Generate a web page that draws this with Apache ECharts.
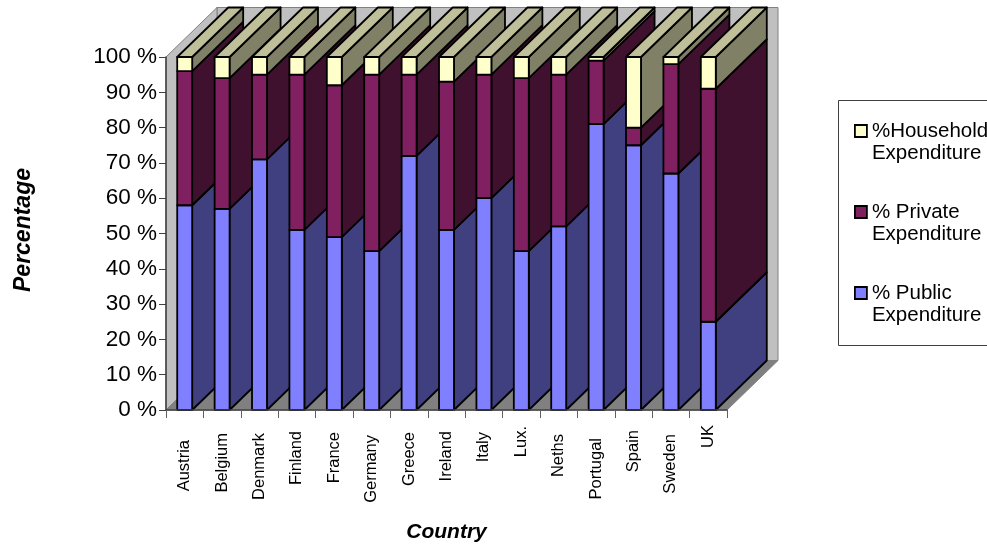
<!DOCTYPE html>
<html>
<head>
<meta charset="utf-8">
<title>Health expenditure shares by country</title>
<style>html,body{margin:0;padding:0;background:#fff}#chart{width:987px;height:544px}</style>
<script src="https://cdn.jsdelivr.net/npm/echarts@6/dist/echarts.min.js"></script>
</head>
<body>
<div id="chart"></div>
<script>
const categories = ['Austria','Belgium','Denmark','Finland','France','Germany','Greece','Ireland','Italy','Lux.','Neths','Portugal','Spain','Sweden','UK'];
const publicPct = [58,57,71,51,49,45,72,51,60,45,52,81,75,67,25];
const privatePct = [38,37,24,44,43,50,23,42,35,49,43,18,5,31,66];
const householdPct = [4,6,5,5,8,5,5,7,5,6,5,1,20,2,9];
const yTicks = { min: 0, max: 100, interval: 10 };

// Extra gap between the axis and each rotated country name.
const labelGaps = [15,8,8,6,7,10,7,6,7,1,9,13,5,9,0];

// Oblique projection used for the pseudo-3D look.
const DEPTH_X = 51;
const DEPTH_Y = -49.5;
const BAR_RATIO = 0.4;
const FONT = '"Liberation Sans", Arial, sans-serif';

function shade(points, fill, z2, lineColor, lineWidth) {
  return {
    type: 'polygon',
    z2: z2,
    shape: { points: points },
    style: { fill: fill, stroke: lineColor || '#000', lineWidth: lineWidth || 1.8, lineJoin: 'round' }
  };
}

// One stack segment of a column: front, side and, for the top segment, the lid.
function segmentRenderer(front, side, lid, order) {
  return function (params, api) {
    const i = api.value(0);
    const low = api.coord([i, api.value(1)]);
    const high = api.coord([i, api.value(2)]);
    const half = api.size([1, 0])[0] * BAR_RATIO / 2;
    const l = low[0] - half, r = low[0] + half;
    const z = i * 10 + order;
    const children = [
      shade([[r, low[1]], [r + DEPTH_X, low[1] + DEPTH_Y], [r + DEPTH_X, high[1] + DEPTH_Y], [r, high[1]]], side, z),
      shade([[l, low[1]], [r, low[1]], [r, high[1]], [l, high[1]]], front, z + 1)
    ];
    if (lid) {
      children.push(shade([[l, high[1]], [r, high[1]], [r + DEPTH_X, high[1] + DEPTH_Y], [l + DEPTH_X, high[1] + DEPTH_Y]], lid, z + 2));
    }
    return { type: 'group', children: children };
  };
}

// Back wall, side wall and floor of the plot box.
function renderWalls(params) {
  const g = params.coordSys;
  const x0 = g.x, x1 = g.x + g.width, y0 = g.y, y1 = g.y + g.height;
  const edge = '#808080';
  return {
    type: 'group',
    children: [
      shade([[x0 + DEPTH_X, y0 + DEPTH_Y], [x1 + DEPTH_X, y0 + DEPTH_Y], [x1 + DEPTH_X, y1 + DEPTH_Y], [x0 + DEPTH_X, y1 + DEPTH_Y]], '#c0c0c0', 0, edge, 1),
      shade([[x0, y0], [x0 + DEPTH_X, y0 + DEPTH_Y], [x0 + DEPTH_X, y1 + DEPTH_Y], [x0, y1]], '#c0c0c0', 0, edge, 1),
      shade([[x0, y1], [x0 + DEPTH_X, y1 + DEPTH_Y], [x1 + DEPTH_X, y1 + DEPTH_Y], [x1, y1]], '#808080', 0, '#808080', 1)
    ]
  };
}

function stackData(bases, values) {
  return values.map((v, i) => [i, bases[i], bases[i] + v]);
}
const privateBase = publicPct.slice();
const householdBase = publicPct.map((v, i) => v + privatePct[i]);

const seriesDefs = [
  { name: '% Public\nExpenditure', color: '#8080ff', side: '#404080', lid: null, order: 0, data: stackData(publicPct.map(() => 0), publicPct) },
  { name: '% Private\nExpenditure', color: '#802060', side: '#40102f', lid: null, order: 3, data: stackData(privateBase, privatePct) },
  { name: '%Household\nExpenditure', color: '#ffffcc', side: '#808066', lid: '#bfbf99', order: 6, data: stackData(householdBase, householdPct) }
];

const chart = echarts.init(document.getElementById('chart'), null, { renderer: 'canvas' });
chart.setOption({
  animation: false,
  backgroundColor: '#ffffff',
  tooltip: { show: false },
  textStyle: { fontFamily: FONT },
  grid: { left: 166, top: 57, width: 561, height: 353, containLabel: false, outerBoundsMode: 'none' },
  xAxis: {
    type: 'category',
    data: categories.map((c, i) => ({ value: c, textStyle: { padding: [0, labelGaps[i], 0, 0] } })),
    z: 3,
    name: 'Country',
    nameLocation: 'middle',
    nameGap: 112,
    nameTextStyle: { fontFamily: FONT, fontSize: 21, fontWeight: 'bold', fontStyle: 'italic', color: '#000' },
    axisLine: { lineStyle: { color: '#404040', width: 1.5 } },
    axisTick: { show: true, alignWithLabel: false, length: 8, lineStyle: { color: '#606060', width: 1 } },
    axisLabel: { interval: 0, rotate: 90, margin: 15, fontFamily: FONT, fontSize: 16.5, color: '#000', hideOverlap: false }
  },
  yAxis: {
    type: 'value',
    min: yTicks.min,
    max: yTicks.max,
    interval: yTicks.interval,
    z: 3,
    name: 'Percentage',
    nameLocation: 'middle',
    nameRotate: 90,
    nameGap: 131,
    nameTextStyle: { fontFamily: FONT, fontSize: 23, fontWeight: 'bold', fontStyle: 'italic', color: '#000', padding: [0, 0, 0, 7] },
    splitLine: { show: false },
    axisLine: { show: true, lineStyle: { color: '#404040', width: 1.5 } },
    axisTick: { show: true, length: 7, lineStyle: { color: '#404040', width: 1 } },
    axisLabel: { formatter: '{value} %', margin: 9, fontFamily: FONT, fontSize: 22.5, color: '#000' }
  },
  legend: {
    orient: 'vertical',
    left: 854,
    top: 98,
    padding: 0,
    itemWidth: 12,
    itemHeight: 12,
    itemGap: 15,
    icon: 'rect',
    data: ['%Household\nExpenditure', '% Private\nExpenditure', '% Public\nExpenditure'],
    // A blank first line keeps the swatch level with the first text line.
    formatter: name => '\n' + name,
    itemStyle: { borderColor: '#000', borderWidth: 1.8 },
    textStyle: { fontFamily: FONT, fontSize: 20.5, lineHeight: 22, color: '#000' },
    selectedMode: false
  },
  graphic: [{
    type: 'rect',
    left: 838,
    top: 100,
    z: -1,
    shape: { width: 170, height: 245 },
    style: { fill: '#fff', stroke: '#404040', lineWidth: 1 },
    silent: true
  }],
  series: [
    {
      type: 'custom',
      name: 'walls',
      silent: true,
      z: 1,
      clip: false,
      coordinateSystem: 'cartesian2d',
      renderItem: renderWalls,
      data: [[0, 0]]
    }
  ].concat(seriesDefs.map(s => ({
    type: 'custom',
    name: s.name,
    z: 2,
    clip: false,
    silent: true,
    coordinateSystem: 'cartesian2d',
    itemStyle: { color: s.color },
    encode: { x: 0, y: [1, 2] },
    renderItem: segmentRenderer(s.color, s.side, s.lid, s.order),
    data: s.data
  })))
});
</script>
</body>
</html>
